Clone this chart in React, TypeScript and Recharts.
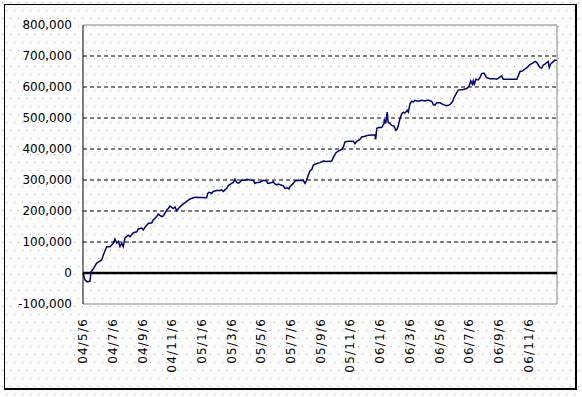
import React from 'react';
import { LineChart, Line, XAxis, YAxis, ReferenceLine } from 'recharts';

// x position in months after 2004/5/6
const months = [
  0, 0.13, 0.27, 0.47, 0.54, 0.69, 0.92, 1.03, 1.26, 1.37, 1.55, 1.6, 1.82, 2.04, 2.15, 2.27, 2.38, 2.49, 2.61, 2.71,
  2.83, 3.05, 3.16, 3.39, 3.62, 3.72, 3.95, 4.06, 4.18, 4.4, 4.63, 4.73, 4.96, 5.07, 5.3, 5.41, 5.64, 5.74, 5.86, 6.08,
  6.2, 6.31, 6.42, 6.65, 6.87, 6.98, 7.21, 7.54, 8.33, 8.4, 8.48, 8.67, 8.77, 9.0, 9.23, 9.34, 9.45, 9.56, 9.68, 9.78,
  10.01, 10.12, 10.24, 10.35, 10.46, 10.57, 10.69, 10.91, 11.02, 11.25, 11.47, 11.58, 11.7, 11.92, 12.14, 12.37, 12.44, 12.59, 12.71, 12.82,
  12.88, 13.04, 13.15, 13.33, 13.49, 13.6, 13.78, 13.87, 13.94, 14.05, 14.16, 14.28, 14.5, 14.73, 14.84, 14.95, 15.06, 15.17, 15.29, 15.4,
  15.51, 15.74, 15.96, 16.18, 16.41, 16.75, 16.86, 17.04, 17.19, 17.42, 17.53, 17.64, 17.87, 18.2, 18.32, 18.43, 18.65, 18.77, 18.99, 19.21,
  19.66, 19.71, 19.78, 19.89, 20.11, 20.27, 20.29, 20.38, 20.49, 20.54, 20.67, 20.79, 20.94, 21.08, 21.16, 21.23, 21.35, 21.46, 21.57, 21.68,
  21.84, 21.91, 22.02, 22.13, 22.24, 22.36, 22.58, 22.81, 23.03, 23.25, 23.48, 23.59, 23.7, 23.82, 24.04, 24.26, 24.49, 24.71, 24.9, 24.98,
  25.17, 25.27, 25.61, 25.84, 26.01, 26.11, 26.22, 26.28, 26.35, 26.46, 26.62, 26.73, 26.85, 27.0, 27.18, 27.41, 27.63, 27.86, 28.03, 28.2,
  28.3, 28.53, 29.21, 29.31, 29.43, 29.61, 29.76, 29.92, 30.05, 30.28, 30.44, 30.55, 30.66, 30.77, 30.89, 31.0, 31.11, 31.23, 31.33, 31.4,
  31.49, 31.67, 31.78, 31.9,
];

// cumulative value, in thousands
const valuesK = [
  0, -22, -28, -27, 4, 13, 32, 35, 42, 58, 80, 85, 85, 96, 110, 97, 102, 85, 96, 85,
  113, 122, 117, 130, 133, 142, 145, 139, 148, 160, 162, 171, 182, 190, 182, 184, 203, 208, 216, 208,
  213, 201, 208, 219, 227, 231, 239, 244, 243, 257, 260, 257, 263, 266, 266, 268, 263, 268, 273, 282,
  289, 292, 302, 292, 290, 293, 300, 299, 302, 300, 299, 289, 292, 293, 299, 297, 289, 290, 292, 295,
  289, 284, 287, 284, 281, 273, 275, 271, 279, 284, 289, 297, 299, 298, 298, 289, 299, 316, 330, 333,
  348, 353, 356, 361, 360, 361, 373, 388, 393, 399, 406, 423, 425, 425, 417, 425, 431, 439, 441, 444,
  446, 431, 466, 469, 469, 482, 496, 482, 519, 487, 482, 476, 474, 460, 465, 476, 498, 514, 519, 516,
  525, 519, 546, 554, 552, 557, 554, 557, 555, 558, 554, 543, 541, 549, 549, 543, 540, 543, 554, 565,
  582, 590, 592, 595, 603, 620, 609, 620, 609, 625, 623, 630, 643, 645, 630, 627, 627, 625, 630, 636,
  625, 625, 625, 636, 650, 652, 658, 663, 671, 677, 682, 680, 671, 663, 661, 671, 674, 679, 682, 663,
  674, 682, 687, 685,
];

const tickMonths = [0, 2, 4, 6, 8, 10, 12, 14, 16, 18, 20, 22, 24, 26, 28, 30];
const tickLabels = [
  '04/5/6', '04/7/6', '04/9/6', '04/11/6', '05/1/6', '05/3/6', '05/5/6', '05/7/6',
  '05/9/6', '05/11/6', '06/1/6', '06/3/6', '06/5/6', '06/7/6', '06/9/6', '06/11/6',
];
const yTicks = [-100000, 0, 100000, 200000, 300000, 400000, 500000, 600000, 700000, 800000];
const gridValues = [100000, 200000, 300000, 400000, 500000, 600000, 700000];
const xMax = 31.92;

const data = months.map((m, i) => ({ m, v: valuesK[i] * 1000 }));

const fontFamily = "'DejaVu Sans', sans-serif";

const XTick = (props: any) => {
  const { x, y, payload } = props;
  const idx = tickMonths.indexOf(payload.value);
  return (
    <text
      transform={`translate(${x},${y}) rotate(-90)`}
      textAnchor="end"
      dy="0.35em"
      fontSize={12}
      fontFamily={fontFamily}
      letterSpacing={1.2}
      fill="#000"
    >
      {tickLabels[idx]}
    </text>
  );
};

const dots =
  "url(\"data:image/svg+xml;utf8,<svg xmlns='http://www.w3.org/2000/svg' width='8' height='16'><rect x='2' y='2' width='1' height='1' fill='%23a0a0a0'/><rect x='6' y='10' width='1' height='1' fill='%23a0a0a0'/></svg>\")";

export default function App() {
  return (
    <div
      style={{
        position: 'absolute',
        left: 0,
        top: 0,
        width: 582,
        height: 397,
        backgroundColor: '#fff',
        backgroundImage: dots,
      }}
    >
      <div
        style={{
          position: 'absolute',
          left: 4,
          top: 4,
          width: 573,
          height: 386,
          boxSizing: 'border-box',
          borderLeft: '1px solid #000',
          borderTop: '1px solid #000',
          borderRight: '2px solid #000',
          borderBottom: '2px solid #000',
        }}
      />
      <div style={{ position: 'absolute', left: 0, top: 0 }}>
        <LineChart width={582} height={397} data={data} margin={{ top: 25, right: 25, bottom: 23, left: 0 }}>
          <XAxis
            dataKey="m"
            type="number"
            domain={[0, xMax]}
            ticks={tickMonths}
            interval={0}
            axisLine={false}
            tickLine={false}
            tickSize={6}
            tickMargin={8}
            height={70}
            tick={<XTick />}
          />
          <YAxis
            type="number"
            domain={[-100000, 800000]}
            ticks={yTicks}
            interval={0}
            width={83}
            axisLine={{ stroke: '#000', strokeWidth: 1 }}
            tickLine={false}
            tickSize={6}
            tickMargin={5}
            tick={{ fill: '#000', fontSize: 12, fontFamily }}
            tickFormatter={(v: number) => v.toLocaleString('en-US')}
          />
          {gridValues.map((g) => (
            <ReferenceLine key={g} y={g} stroke="#000" strokeDasharray="4 3" strokeWidth={1} />
          ))}
          <ReferenceLine y={800000} stroke="#808080" strokeWidth={1} />
          <ReferenceLine y={-100000} stroke="#808080" strokeWidth={1} />
          <ReferenceLine x={xMax} stroke="#808080" strokeWidth={1} />
          <ReferenceLine y={0} stroke="#000" strokeWidth={2.5} />
          <Line
            type="linear"
            dataKey="v"
            stroke="#000080"
            strokeWidth={1.5}
            dot={false}
            isAnimationActive={false}
          />
        </LineChart>
      </div>
    </div>
  );
}
